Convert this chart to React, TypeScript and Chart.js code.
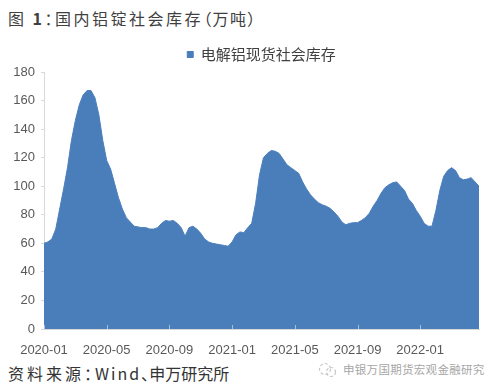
import React, { useEffect, useRef } from "react";
import { Chart, registerables } from "chart.js";

Chart.register(...registerables);

const seriesName = "电解铝现货社会库存";
const tickMonths = [0, 4, 8, 12, 16, 20, 24];
const tickLabels = ["2020-01", "2020-05", "2020-09", "2021-01", "2021-05", "2021-09", "2022-01"];
const yTicks = [0, 20, 40, 60, 80, 100, 120, 140, 160, 180];
const stepMonths = 0.25; // about one reading per week, 0 = 2020-01
const stock = [
  60, 61, 63, 70, 84, 98, 113, 132, 146, 157, 164, 167,
  167, 162, 150, 132, 118, 112, 102, 92, 84, 78, 75, 72,
  71.5, 71, 71, 70, 70, 71, 74, 76, 75.5, 76, 74, 71,
  65, 71, 72, 70, 67, 63, 61, 60, 59.5, 59, 58.5, 58,
  61, 66, 68, 67.5, 71, 74, 88, 108, 120, 123, 125, 124.5,
  123, 119, 115, 113, 111, 109, 103, 98, 94, 91, 88.5, 87,
  86, 84.5, 82, 79, 75, 73, 74, 74.5, 74.5, 76, 78, 81,
  86, 90, 95, 99, 101, 102.5, 103, 100, 97, 91, 88, 83,
  79, 74, 72, 72, 83, 97, 107, 111, 113, 111, 106, 104.5,
  105, 106, 103, 100,
];

const FILL = "#4a7ebb";
const CJK = "'Noto Sans CJK SC', sans-serif";

const innerTicks = {
  id: "innerTicks",
  afterDatasetsDraw(chart: any) {
    const x = chart.scales.x;
    const ctx = chart.ctx;
    ctx.save();
    ctx.strokeStyle = "rgba(255,255,255,0.5)";
    ctx.lineWidth = 1;
    x.ticks.forEach((t: any) => {
      const px = Math.round(x.getPixelForValue(t.value)) + 0.5;
      ctx.beginPath();
      ctx.moveTo(px, x.top);
      ctx.lineTo(px, x.top - 4);
      ctx.stroke();
    });
    ctx.restore();
  },
};

export default function App() {
  const ref = useRef<HTMLCanvasElement>(null);
  useEffect(() => {
    if (!ref.current) return;
    const chart = new Chart(ref.current, {
      type: "line",
      data: {
        datasets: [
          {
            label: seriesName,
            data: stock.map((v, i) => ({ x: i * stepMonths, y: v })),
            borderColor: FILL,
            backgroundColor: FILL,
            borderWidth: 1,
            pointRadius: 0,
            fill: "origin",
            tension: 0,
          },
        ],
      },
      options: {
        animation: false,
        responsive: false,
        layout: { padding: { left: 0, right: 21, top: 6, bottom: 0 } },
        plugins: {
          legend: {
            position: "top",
            fullSize: false,
            labels: {
              boxWidth: 6,
              boxHeight: 6,
              padding: 7,
              color: "#404040",
              font: { family: CJK, size: 15 },
            },
          },
          tooltip: { enabled: false },
        },
        scales: {
          x: {
            type: "linear",
            min: 0,
            max: (stock.length - 1) * stepMonths,
            afterBuildTicks: (s: any) => {
              s.ticks = tickMonths.map((v) => ({ value: v }));
            },
            afterFit: (s: any) => {
              s.height = 26;
            },
            grid: { display: false },
            border: { display: true, color: "#d9d9d9", width: 1 },
            ticks: {
              padding: 6,
              color: "#595959",
              font: { family: "'Liberation Sans', sans-serif", size: 13 },
              maxRotation: 0,
              autoSkip: false,
              callback: (v: any) => tickLabels[tickMonths.indexOf(v)] ?? "",
            },
          },
          y: {
            min: 0,
            max: 180,
            afterBuildTicks: (s: any) => {
              s.ticks = yTicks.map((v) => ({ value: v }));
            },
            afterFit: (s: any) => {
              s.width = 44;
            },
            grid: { display: true, drawOnChartArea: false, drawTicks: true, tickLength: 3, color: "#d9d9d9" },
            border: { display: true, color: "#d9d9d9", width: 1 },
            ticks: {
              padding: 6,
              color: "#595959",
              font: { family: "'Liberation Sans', sans-serif", size: 13 },
            },
          },
        },
      },
      plugins: [innerTicks],
    });
    return () => chart.destroy();
  }, []);

  return (
    <div style={{ position: "fixed", left: 0, top: 0, width: 500, height: 391, background: "#fff", overflow: "hidden", fontFamily: CJK }}>
      <div style={{ position: "absolute", left: 8, top: 6, fontSize: 16, color: "#404040", letterSpacing: 2.5, fontFeatureSettings: "'palt'", whiteSpace: "nowrap" }}>
        图 <b>1</b>：国内铝锭社会库存<span style={{ letterSpacing: 1.5 }}>（万吨）</span>
      </div>
      <canvas ref={ref} width={500} height={321} style={{ position: "absolute", left: 0, top: 34, width: 500, height: 321 }} />
      <div style={{ position: "absolute", left: 8, top: 361, fontSize: 16, color: "#333", fontFeatureSettings: "'palt'", whiteSpace: "nowrap" }}>
        <span style={{ letterSpacing: 3 }}>资料来源：</span>
        <span style={{ letterSpacing: 2 }}>Wind</span>
        <span style={{ letterSpacing: 0 }}>、申万研究所</span>
      </div>
      <svg width={20} height={16} style={{ position: "absolute", left: 318, top: 362 }}>
        <circle cx={7} cy={7} r={5.5} fill="none" stroke="#c8c8c8" strokeWidth={1.2} strokeDasharray="3 2" />
        <circle cx={13} cy={10} r={4.5} fill="none" stroke="#c8c8c8" strokeWidth={1.2} strokeDasharray="3 2" />
      </svg>
      <div style={{ position: "absolute", left: 343, top: 361, fontSize: 11.5, color: "#a6a6a6", letterSpacing: 0.3, whiteSpace: "nowrap" }}>
        申银万国期货宏观金融研究
      </div>
    </div>
  );
}
